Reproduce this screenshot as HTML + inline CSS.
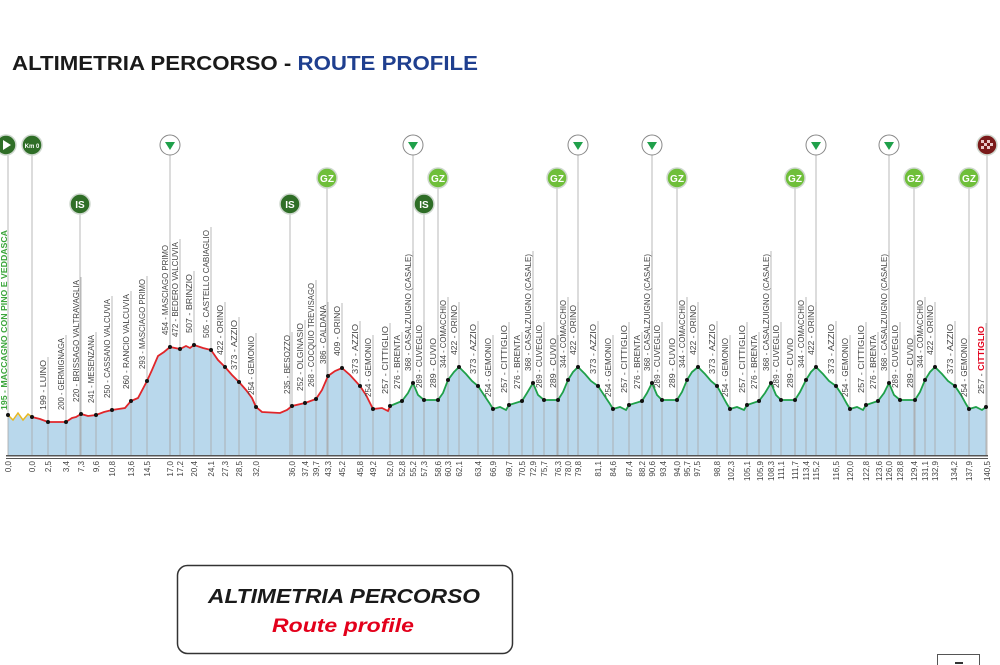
<!DOCTYPE html>
<html><head><meta charset="utf-8"><style>
html,body{margin:0;padding:0;background:#fff;}
svg{display:block;font-family:"Liberation Sans",sans-serif;}
.l{stroke:#a8a8a8;stroke-width:0.8}
.t{font-size:8px;fill:#444}
.k{font-size:8px;fill:#444}
</style></head><body>
<svg width="1000" height="665" viewBox="0 0 1000 665">
<text x="12" y="70" font-size="20" font-weight="bold" textLength="466" lengthAdjust="spacingAndGlyphs"><tspan fill="#1a1a1a">ALTIMETRIA PERCORSO - </tspan><tspan fill="#1f3f8f">ROUTE PROFILE</tspan></text>

<path fill="#b9d8ec" d="M8,455 L8,415 13,420 18,413 23,420 28,414 32,417 40,419 48,422 56,422 66,422 72,418 76,417 81,414 88,416 96,415 104,412 112,410 125,408 131,401 138,398 147,381 152,370 158,356 164,352 170,347 175,348 180,349 186,346 190,348 194,345 203,348 211,350 218,360 225,367 232,375 239,382 246,390 252,398 256,407 262,412 280,413 287,410 292,406 305,403 316,399 322,390 328,376 335,371 342,368 350,375 360,386 366,395 373,409 382,408 388,411 390,406 402,401 408,393 413,383 418,395 424,400 438,400 443,393 448,380 454,372 459,367 466,374 472,381 478,386 484,395 490,404 493,409 500,407 506,410 509,405 522,401 527,393 533,383 538,395 544,400 558,400 563,392 568,380 573,372 578,367 585,374 591,381 598,386 604,395 610,404 613,409 620,407 626,410 629,405 642,401 647,393 652,383 657,395 662,400 677,400 682,392 687,380 692,372 698,367 705,374 711,381 717,386 722,395 727,404 730,409 737,407 744,410 747,405 759,401 765,393 771,383 776,395 781,400 795,400 800,392 806,380 811,372 816,367 823,374 829,381 836,386 842,395 847,404 850,409 857,407 863,410 866,405 878,401 884,393 889,383 894,395 900,400 915,400 920,392 925,380 930,372 935,367 942,374 948,381 955,386 961,395 966,404 969,409 976,407 982,410 986,407 L986,455 Z"/>

<!-- label lines -->
<g class="l">
<line x1="48" y1="357" x2="48" y2="455"/><line x1="66" y1="335" x2="66" y2="455"/><line x1="81" y1="277" x2="81" y2="455"/><line x1="96" y1="332" x2="96" y2="455"/><line x1="112" y1="296" x2="112" y2="455"/><line x1="131" y1="291" x2="131" y2="455"/><line x1="147" y1="276" x2="147" y2="455"/><line x1="170" y1="242" x2="170" y2="455"/><line x1="180" y1="239" x2="180" y2="455"/><line x1="194" y1="271" x2="194" y2="455"/><line x1="211" y1="227" x2="211" y2="455"/><line x1="225" y1="302" x2="225" y2="455"/><line x1="239" y1="317" x2="239" y2="455"/><line x1="256" y1="333" x2="256" y2="455"/><line x1="292" y1="332" x2="292" y2="455"/><line x1="305" y1="320" x2="305" y2="455"/><line x1="316" y1="280" x2="316" y2="455"/><line x1="328" y1="302" x2="328" y2="455"/><line x1="342" y1="303" x2="342" y2="455"/><line x1="360" y1="321" x2="360" y2="455"/><line x1="373" y1="335" x2="373" y2="455"/><line x1="390" y1="323" x2="390" y2="455"/><line x1="402" y1="332" x2="402" y2="455"/><line x1="413" y1="251" x2="413" y2="455"/><line x1="424" y1="322" x2="424" y2="455"/><line x1="438" y1="335" x2="438" y2="455"/><line x1="448" y1="297" x2="448" y2="455"/><line x1="459" y1="302" x2="459" y2="455"/>
<line x1="478" y1="321" x2="478" y2="455"/><line x1="493" y1="335" x2="493" y2="455"/><line x1="509" y1="322" x2="509" y2="455"/><line x1="522" y1="332" x2="522" y2="455"/><line x1="533" y1="251" x2="533" y2="455"/><line x1="544" y1="322" x2="544" y2="455"/><line x1="558" y1="335" x2="558" y2="455"/><line x1="568" y1="297" x2="568" y2="455"/><line x1="578" y1="302" x2="578" y2="455"/>
<line x1="598" y1="321" x2="598" y2="455"/><line x1="613" y1="335" x2="613" y2="455"/><line x1="629" y1="322" x2="629" y2="455"/><line x1="642" y1="332" x2="642" y2="455"/><line x1="652" y1="251" x2="652" y2="455"/><line x1="662" y1="322" x2="662" y2="455"/><line x1="677" y1="335" x2="677" y2="455"/><line x1="687" y1="297" x2="687" y2="455"/><line x1="698" y1="302" x2="698" y2="455"/>
<line x1="717" y1="321" x2="717" y2="455"/><line x1="730" y1="335" x2="730" y2="455"/><line x1="747" y1="322" x2="747" y2="455"/><line x1="759" y1="332" x2="759" y2="455"/><line x1="771" y1="251" x2="771" y2="455"/><line x1="781" y1="322" x2="781" y2="455"/><line x1="795" y1="335" x2="795" y2="455"/><line x1="806" y1="297" x2="806" y2="455"/><line x1="816" y1="302" x2="816" y2="455"/>
<line x1="836" y1="321" x2="836" y2="455"/><line x1="850" y1="335" x2="850" y2="455"/><line x1="866" y1="322" x2="866" y2="455"/><line x1="878" y1="332" x2="878" y2="455"/><line x1="889" y1="251" x2="889" y2="455"/><line x1="900" y1="322" x2="900" y2="455"/><line x1="915" y1="335" x2="915" y2="455"/><line x1="925" y1="297" x2="925" y2="455"/><line x1="935" y1="302" x2="935" y2="455"/>
<line x1="955" y1="321" x2="955" y2="455"/><line x1="969" y1="335" x2="969" y2="455"/><line x1="986" y1="323" x2="986" y2="455"/>
<!-- marker lines -->
<line x1="8" y1="150" x2="8" y2="455"/><line x1="32" y1="150" x2="32" y2="455"/><line x1="80" y1="210" x2="80" y2="455"/><line x1="170" y1="150" x2="170" y2="455"/><line x1="290" y1="210" x2="290" y2="455"/><line x1="327" y1="180" x2="327" y2="455"/><line x1="413" y1="150" x2="413" y2="455"/><line x1="424" y1="210" x2="424" y2="455"/><line x1="438" y1="180" x2="438" y2="455"/><line x1="557" y1="180" x2="557" y2="455"/><line x1="578" y1="150" x2="578" y2="455"/><line x1="652" y1="150" x2="652" y2="455"/><line x1="677" y1="180" x2="677" y2="455"/><line x1="795" y1="180" x2="795" y2="455"/><line x1="816" y1="150" x2="816" y2="455"/><line x1="889" y1="150" x2="889" y2="455"/><line x1="914" y1="180" x2="914" y2="455"/><line x1="969" y1="180" x2="969" y2="455"/><line x1="987" y1="150" x2="987" y2="455"/>
</g>

<!-- profile lines -->
<polyline fill="none" stroke="#e8b820" stroke-width="1.5" points="8,415 13,420 18,413 23,420 28,414 32,417"/>
<polyline fill="none" stroke="#e0262a" stroke-width="1.8" points="32,417 40,419 48,422 56,422 66,422 72,418 76,417 81,414 88,416 96,415 104,412 112,410 125,408 131,401 138,398 147,381 152,370 158,356 164,352 170,347 175,348 180,349 186,346 190,348 194,345 203,348 211,350 218,360 225,367 232,375 239,382 246,390 252,398 256,407 262,412 280,413 287,410 292,406 305,403 316,399 322,390 328,376 335,371 342,368 350,375 360,386 366,395 373,409 382,408 388,411 390,406"/>
<polyline fill="none" stroke="#1fa04a" stroke-width="1.8" points="390,406 402,401 408,393 413,383 418,395 424,400 438,400 443,393 448,380 454,372 459,367 466,374 472,381 478,386 484,395 490,404 493,409 500,407 506,410 509,405 522,401 527,393 533,383 538,395 544,400 558,400 563,392 568,380 573,372 578,367 585,374 591,381 598,386 604,395 610,404 613,409 620,407 626,410 629,405 642,401 647,393 652,383 657,395 662,400 677,400 682,392 687,380 692,372 698,367 705,374 711,381 717,386 722,395 727,404 730,409 737,407 744,410 747,405 759,401 765,393 771,383 776,395 781,400 795,400 800,392 806,380 811,372 816,367 823,374 829,381 836,386 842,395 847,404 850,409 857,407 863,410 866,405 878,401 884,393 889,383 894,395 900,400 915,400 920,392 925,380 930,372 935,367 942,374 948,381 955,386 961,395 966,404 969,409 976,407 982,410 986,407"/>

<!-- axis -->
<rect x="6" y="455" width="982" height="1.5" fill="#555"/>
<rect x="6" y="458" width="982" height="1" fill="#555"/>

<!-- dots -->
<g fill="#111">
<circle cx="8" cy="415" r="2"/><circle cx="32" cy="417" r="2"/><circle cx="48" cy="422" r="2"/><circle cx="66" cy="422" r="2"/><circle cx="81" cy="414" r="2"/><circle cx="96" cy="415" r="2"/><circle cx="112" cy="410" r="2"/><circle cx="131" cy="401" r="2"/><circle cx="147" cy="381" r="2"/><circle cx="170" cy="347" r="2"/><circle cx="180" cy="349" r="2"/><circle cx="194" cy="345" r="2"/><circle cx="211" cy="350" r="2"/><circle cx="225" cy="367" r="2"/><circle cx="239" cy="382" r="2"/><circle cx="256" cy="407" r="2"/><circle cx="292" cy="406" r="2"/><circle cx="305" cy="403" r="2"/><circle cx="316" cy="399" r="2"/><circle cx="328" cy="376" r="2"/><circle cx="342" cy="368" r="2"/><circle cx="360" cy="386" r="2"/><circle cx="373" cy="409" r="2"/><circle cx="390" cy="406" r="2"/><circle cx="402" cy="401" r="2"/><circle cx="413" cy="383" r="2"/><circle cx="424" cy="400" r="2"/><circle cx="438" cy="400" r="2"/><circle cx="448" cy="380" r="2"/><circle cx="459" cy="367" r="2"/>
<circle cx="478" cy="386" r="2"/><circle cx="493" cy="409" r="2"/><circle cx="509" cy="405" r="2"/><circle cx="522" cy="401" r="2"/><circle cx="533" cy="383" r="2"/><circle cx="544" cy="400" r="2"/><circle cx="558" cy="400" r="2"/><circle cx="568" cy="380" r="2"/><circle cx="578" cy="367" r="2"/>
<circle cx="598" cy="386" r="2"/><circle cx="613" cy="409" r="2"/><circle cx="629" cy="405" r="2"/><circle cx="642" cy="401" r="2"/><circle cx="652" cy="383" r="2"/><circle cx="662" cy="400" r="2"/><circle cx="677" cy="400" r="2"/><circle cx="687" cy="380" r="2"/><circle cx="698" cy="367" r="2"/>
<circle cx="717" cy="386" r="2"/><circle cx="730" cy="409" r="2"/><circle cx="747" cy="405" r="2"/><circle cx="759" cy="401" r="2"/><circle cx="771" cy="383" r="2"/><circle cx="781" cy="400" r="2"/><circle cx="795" cy="400" r="2"/><circle cx="806" cy="380" r="2"/><circle cx="816" cy="367" r="2"/>
<circle cx="836" cy="386" r="2"/><circle cx="850" cy="409" r="2"/><circle cx="866" cy="405" r="2"/><circle cx="878" cy="401" r="2"/><circle cx="889" cy="383" r="2"/><circle cx="900" cy="400" r="2"/><circle cx="915" cy="400" r="2"/><circle cx="925" cy="380" r="2"/><circle cx="935" cy="367" r="2"/>
<circle cx="955" cy="386" r="2"/><circle cx="969" cy="409" r="2"/><circle cx="986" cy="407" r="2"/>
</g>

<!-- place labels -->
<g class="t">
<text transform="translate(7,410) rotate(-90)" fill="#3aa53a" font-weight="bold" textLength="180" lengthAdjust="spacingAndGlyphs">195 - MACCAGNO CON PINO E VEDDASCA</text>
<text transform="translate(46,410) rotate(-90)" textLength="50" lengthAdjust="spacingAndGlyphs">199 - LUINO</text>
<text transform="translate(64,410) rotate(-90)" textLength="72" lengthAdjust="spacingAndGlyphs">200 - GERMIGNAGA</text>
<text transform="translate(79,402) rotate(-90)" textLength="122" lengthAdjust="spacingAndGlyphs">220 - BRISSAGO VALTRAVAGLIA</text>
<text transform="translate(94,403) rotate(-90)" textLength="68" lengthAdjust="spacingAndGlyphs">241 - MESENZANA</text>
<text transform="translate(110,398) rotate(-90)" textLength="99" lengthAdjust="spacingAndGlyphs">250 - CASSANO VALCUVIA</text>
<text transform="translate(129,389) rotate(-90)" textLength="95" lengthAdjust="spacingAndGlyphs">260 - RANCIO VALCUVIA</text>
<text transform="translate(145,369) rotate(-90)" textLength="90" lengthAdjust="spacingAndGlyphs">293 - MASCIAGO PRIMO</text>
<text transform="translate(168,335) rotate(-90)" textLength="90" lengthAdjust="spacingAndGlyphs">454 - MASCIAGO PRIMO</text>
<text transform="translate(178,337) rotate(-90)" textLength="95" lengthAdjust="spacingAndGlyphs">472 - BEDERO VALCUVIA</text>
<text transform="translate(192,333) rotate(-90)" textLength="59" lengthAdjust="spacingAndGlyphs">507 - BRINZIO</text>
<text transform="translate(209,338) rotate(-90)" textLength="108" lengthAdjust="spacingAndGlyphs">505 - CASTELLO CABIAGLIO</text>
<text transform="translate(223,355) rotate(-90)" textLength="50" lengthAdjust="spacingAndGlyphs">422 - ORINO</text>
<text transform="translate(237,370) rotate(-90)" textLength="50" lengthAdjust="spacingAndGlyphs">373 - AZZIO</text>
<text transform="translate(254,395) rotate(-90)" textLength="59" lengthAdjust="spacingAndGlyphs">254 - GEMONIO</text>
<text transform="translate(290,394) rotate(-90)" textLength="59" lengthAdjust="spacingAndGlyphs">235 - BESOZZO</text>
<text transform="translate(303,391) rotate(-90)" textLength="68" lengthAdjust="spacingAndGlyphs">252 - OLGINASIO</text>
<text transform="translate(314,387) rotate(-90)" textLength="104" lengthAdjust="spacingAndGlyphs">268 - COCQUIO TREVISAGO</text>
<text transform="translate(326,364) rotate(-90)" textLength="59" lengthAdjust="spacingAndGlyphs">386 - CALDANA</text>
<text transform="translate(340,356) rotate(-90)" textLength="50" lengthAdjust="spacingAndGlyphs">409 - ORINO</text>
<text transform="translate(358,374) rotate(-90)" textLength="50" lengthAdjust="spacingAndGlyphs">373 - AZZIO</text>
<text transform="translate(371,397) rotate(-90)" textLength="59" lengthAdjust="spacingAndGlyphs">254 - GEMONIO</text>
<text transform="translate(388,394) rotate(-90)" textLength="68" lengthAdjust="spacingAndGlyphs">257 - CITTIGLIO</text>
<text transform="translate(400,389) rotate(-90)" textLength="54" lengthAdjust="spacingAndGlyphs">276 - BRENTA</text>
<text transform="translate(411,371) rotate(-90)" textLength="117" lengthAdjust="spacingAndGlyphs">368 - CASALZUIGNO (CASALE)</text>
<text transform="translate(422,388) rotate(-90)" textLength="63" lengthAdjust="spacingAndGlyphs">289 - CUVEGLIO</text>
<text transform="translate(436,388) rotate(-90)" textLength="50" lengthAdjust="spacingAndGlyphs">289 - CUVIO</text>
<text transform="translate(446,368) rotate(-90)" textLength="68" lengthAdjust="spacingAndGlyphs">344 - COMACCHIO</text>
<text transform="translate(457,355) rotate(-90)" textLength="50" lengthAdjust="spacingAndGlyphs">422 - ORINO</text>

<text transform="translate(476,374) rotate(-90)" textLength="50" lengthAdjust="spacingAndGlyphs">373 - AZZIO</text>
<text transform="translate(491,397) rotate(-90)" textLength="59" lengthAdjust="spacingAndGlyphs">254 - GEMONIO</text>
<text transform="translate(507,393) rotate(-90)" textLength="68" lengthAdjust="spacingAndGlyphs">257 - CITTIGLIO</text>
<text transform="translate(520,389) rotate(-90)" textLength="54" lengthAdjust="spacingAndGlyphs">276 - BRENTA</text>
<text transform="translate(531,371) rotate(-90)" textLength="117" lengthAdjust="spacingAndGlyphs">368 - CASALZUIGNO (CASALE)</text>
<text transform="translate(542,388) rotate(-90)" textLength="63" lengthAdjust="spacingAndGlyphs">289 - CUVEGLIO</text>
<text transform="translate(556,388) rotate(-90)" textLength="50" lengthAdjust="spacingAndGlyphs">289 - CUVIO</text>
<text transform="translate(566,368) rotate(-90)" textLength="68" lengthAdjust="spacingAndGlyphs">344 - COMACCHIO</text>
<text transform="translate(576,355) rotate(-90)" textLength="50" lengthAdjust="spacingAndGlyphs">422 - ORINO</text>

<text transform="translate(596,374) rotate(-90)" textLength="50" lengthAdjust="spacingAndGlyphs">373 - AZZIO</text>
<text transform="translate(611,397) rotate(-90)" textLength="59" lengthAdjust="spacingAndGlyphs">254 - GEMONIO</text>
<text transform="translate(627,393) rotate(-90)" textLength="68" lengthAdjust="spacingAndGlyphs">257 - CITTIGLIO</text>
<text transform="translate(640,389) rotate(-90)" textLength="54" lengthAdjust="spacingAndGlyphs">276 - BRENTA</text>
<text transform="translate(650,371) rotate(-90)" textLength="117" lengthAdjust="spacingAndGlyphs">368 - CASALZUIGNO (CASALE)</text>
<text transform="translate(660,388) rotate(-90)" textLength="63" lengthAdjust="spacingAndGlyphs">289 - CUVEGLIO</text>
<text transform="translate(675,388) rotate(-90)" textLength="50" lengthAdjust="spacingAndGlyphs">289 - CUVIO</text>
<text transform="translate(685,368) rotate(-90)" textLength="68" lengthAdjust="spacingAndGlyphs">344 - COMACCHIO</text>
<text transform="translate(696,355) rotate(-90)" textLength="50" lengthAdjust="spacingAndGlyphs">422 - ORINO</text>

<text transform="translate(715,374) rotate(-90)" textLength="50" lengthAdjust="spacingAndGlyphs">373 - AZZIO</text>
<text transform="translate(728,397) rotate(-90)" textLength="59" lengthAdjust="spacingAndGlyphs">254 - GEMONIO</text>
<text transform="translate(745,393) rotate(-90)" textLength="68" lengthAdjust="spacingAndGlyphs">257 - CITTIGLIO</text>
<text transform="translate(757,389) rotate(-90)" textLength="54" lengthAdjust="spacingAndGlyphs">276 - BRENTA</text>
<text transform="translate(769,371) rotate(-90)" textLength="117" lengthAdjust="spacingAndGlyphs">368 - CASALZUIGNO (CASALE)</text>
<text transform="translate(779,388) rotate(-90)" textLength="63" lengthAdjust="spacingAndGlyphs">289 - CUVEGLIO</text>
<text transform="translate(793,388) rotate(-90)" textLength="50" lengthAdjust="spacingAndGlyphs">289 - CUVIO</text>
<text transform="translate(804,368) rotate(-90)" textLength="68" lengthAdjust="spacingAndGlyphs">344 - COMACCHIO</text>
<text transform="translate(814,355) rotate(-90)" textLength="50" lengthAdjust="spacingAndGlyphs">422 - ORINO</text>

<text transform="translate(834,374) rotate(-90)" textLength="50" lengthAdjust="spacingAndGlyphs">373 - AZZIO</text>
<text transform="translate(848,397) rotate(-90)" textLength="59" lengthAdjust="spacingAndGlyphs">254 - GEMONIO</text>
<text transform="translate(864,393) rotate(-90)" textLength="68" lengthAdjust="spacingAndGlyphs">257 - CITTIGLIO</text>
<text transform="translate(876,389) rotate(-90)" textLength="54" lengthAdjust="spacingAndGlyphs">276 - BRENTA</text>
<text transform="translate(887,371) rotate(-90)" textLength="117" lengthAdjust="spacingAndGlyphs">368 - CASALZUIGNO (CASALE)</text>
<text transform="translate(898,388) rotate(-90)" textLength="63" lengthAdjust="spacingAndGlyphs">289 - CUVEGLIO</text>
<text transform="translate(913,388) rotate(-90)" textLength="50" lengthAdjust="spacingAndGlyphs">289 - CUVIO</text>
<text transform="translate(923,368) rotate(-90)" textLength="68" lengthAdjust="spacingAndGlyphs">344 - COMACCHIO</text>
<text transform="translate(933,355) rotate(-90)" textLength="50" lengthAdjust="spacingAndGlyphs">422 - ORINO</text>

<text transform="translate(953,374) rotate(-90)" textLength="50" lengthAdjust="spacingAndGlyphs">373 - AZZIO</text>
<text transform="translate(967,397) rotate(-90)" textLength="59" lengthAdjust="spacingAndGlyphs">254 - GEMONIO</text>
<text transform="translate(984,394) rotate(-90)" textLength="68" lengthAdjust="spacingAndGlyphs"><tspan>257 - </tspan><tspan fill="#e3001b" font-weight="bold">CITTIGLIO</tspan></text>
</g>

<!-- km labels -->
<g class="k" text-anchor="end">
<text transform="translate(11,461) rotate(-90)">0,0</text>
<text transform="translate(35,461) rotate(-90)">0,0</text>
<text transform="translate(51,461) rotate(-90)">2,5</text>
<text transform="translate(69,461) rotate(-90)">3,4</text>
<text transform="translate(84,461) rotate(-90)">7,3</text>
<text transform="translate(99,461) rotate(-90)">9,6</text>
<text transform="translate(115,461) rotate(-90)">10,8</text>
<text transform="translate(134,461) rotate(-90)">13,6</text>
<text transform="translate(150,461) rotate(-90)">14,5</text>
<text transform="translate(173,461) rotate(-90)">17,0</text>
<text transform="translate(183,461) rotate(-90)">17,2</text>
<text transform="translate(197,461) rotate(-90)">20,4</text>
<text transform="translate(214,461) rotate(-90)">24,1</text>
<text transform="translate(228,461) rotate(-90)">27,3</text>
<text transform="translate(242,461) rotate(-90)">28,5</text>
<text transform="translate(259,461) rotate(-90)">32,0</text>
<text transform="translate(295,461) rotate(-90)">36,0</text>
<text transform="translate(308,461) rotate(-90)">37,4</text>
<text transform="translate(319,461) rotate(-90)">39,7</text>
<text transform="translate(331,461) rotate(-90)">43,3</text>
<text transform="translate(345,461) rotate(-90)">45,2</text>
<text transform="translate(363,461) rotate(-90)">45,8</text>
<text transform="translate(376,461) rotate(-90)">49,2</text>
<text transform="translate(393,461) rotate(-90)">52,0</text>
<text transform="translate(405,461) rotate(-90)">52,8</text>
<text transform="translate(416,461) rotate(-90)">55,2</text>
<text transform="translate(427,461) rotate(-90)">57,3</text>
<text transform="translate(441,461) rotate(-90)">58,6</text>
<text transform="translate(451,461) rotate(-90)">60,3</text>
<text transform="translate(462,461) rotate(-90)">62,1</text>
<text transform="translate(481,461) rotate(-90)">63,4</text>
<text transform="translate(496,461) rotate(-90)">66,9</text>
<text transform="translate(512,461) rotate(-90)">69,7</text>
<text transform="translate(525,461) rotate(-90)">70,5</text>
<text transform="translate(536,461) rotate(-90)">72,9</text>
<text transform="translate(547,461) rotate(-90)">75,7</text>
<text transform="translate(561,461) rotate(-90)">76,3</text>
<text transform="translate(571,461) rotate(-90)">78,0</text>
<text transform="translate(581,461) rotate(-90)">79,8</text>
<text transform="translate(601,461) rotate(-90)">81,1</text>
<text transform="translate(616,461) rotate(-90)">84,6</text>
<text transform="translate(632,461) rotate(-90)">87,4</text>
<text transform="translate(645,461) rotate(-90)">88,2</text>
<text transform="translate(655,461) rotate(-90)">90,6</text>
<text transform="translate(666,461) rotate(-90)">93,4</text>
<text transform="translate(680,461) rotate(-90)">94,0</text>
<text transform="translate(690,461) rotate(-90)">95,7</text>
<text transform="translate(700,461) rotate(-90)">97,5</text>
<text transform="translate(720,461) rotate(-90)">98,8</text>
<text transform="translate(734,461) rotate(-90)">102,3</text>
<text transform="translate(750,461) rotate(-90)">105,1</text>
<text transform="translate(763,461) rotate(-90)">105,9</text>
<text transform="translate(774,461) rotate(-90)">108,3</text>
<text transform="translate(784,461) rotate(-90)">111,1</text>
<text transform="translate(798,461) rotate(-90)">111,7</text>
<text transform="translate(809,461) rotate(-90)">113,4</text>
<text transform="translate(819,461) rotate(-90)">115,2</text>
<text transform="translate(839,461) rotate(-90)">116,5</text>
<text transform="translate(853,461) rotate(-90)">120,0</text>
<text transform="translate(869,461) rotate(-90)">122,8</text>
<text transform="translate(882,461) rotate(-90)">123,6</text>
<text transform="translate(892,461) rotate(-90)">126,0</text>
<text transform="translate(903,461) rotate(-90)">128,8</text>
<text transform="translate(917,461) rotate(-90)">129,4</text>
<text transform="translate(928,461) rotate(-90)">131,1</text>
<text transform="translate(938,461) rotate(-90)">132,9</text>
<text transform="translate(957,461) rotate(-90)">134,2</text>
<text transform="translate(972,461) rotate(-90)">137,9</text>
<text transform="translate(990,461) rotate(-90)">140,5</text>
</g>

<!-- markers -->
<g stroke="#cfd8cf" stroke-width="1.5">
<circle cx="6" cy="145" r="10" fill="#2f6e27"/>
<circle cx="32" cy="145" r="10" fill="#2f6e27"/>
<circle cx="80" cy="204" r="10" fill="#2f6e27"/>
<circle cx="290" cy="204" r="10" fill="#2f6e27"/>
<circle cx="424" cy="204" r="10" fill="#2f6e27"/>
<circle cx="327" cy="178" r="10" fill="#6fbf3a"/>
<circle cx="438" cy="178" r="10" fill="#6fbf3a"/>
<circle cx="557" cy="178" r="10" fill="#6fbf3a"/>
<circle cx="677" cy="178" r="10" fill="#6fbf3a"/>
<circle cx="795" cy="178" r="10" fill="#6fbf3a"/>
<circle cx="914" cy="178" r="10" fill="#6fbf3a"/>
<circle cx="969" cy="178" r="10" fill="#6fbf3a"/>
<circle cx="987" cy="145" r="10" fill="#7a1a1a"/>
</g>
<g fill="#fff" stroke="#888" stroke-width="1">
<circle cx="170" cy="145" r="10"/><circle cx="413" cy="145" r="10"/><circle cx="578" cy="145" r="10"/><circle cx="652" cy="145" r="10"/><circle cx="816" cy="145" r="10"/><circle cx="889" cy="145" r="10"/>
</g>
<g fill="#1fa04a">
<path d="M165,142 L175,142 L170,150 Z"/><path d="M408,142 L418,142 L413,150 Z"/><path d="M573,142 L583,142 L578,150 Z"/><path d="M647,142 L657,142 L652,150 Z"/><path d="M811,142 L821,142 L816,150 Z"/><path d="M884,142 L894,142 L889,150 Z"/>
</g>
<path d="M3,140 L11,145 L3,150 Z" fill="#fff"/>
<text x="32" y="148" font-size="6" font-weight="bold" fill="#fff" text-anchor="middle">Km 0</text>
<g font-size="10" font-weight="bold" fill="#fff" text-anchor="middle">
<text x="80" y="208">IS</text><text x="290" y="208">IS</text><text x="424" y="208">IS</text>
<text x="327" y="182">GZ</text><text x="438" y="182">GZ</text><text x="557" y="182">GZ</text><text x="677" y="182">GZ</text><text x="795" y="182">GZ</text><text x="914" y="182">GZ</text><text x="969" y="182">GZ</text>
</g>
<g fill="#e8c8c8"><rect x="981" y="140" width="3" height="3"/><rect x="987" y="140" width="3" height="3"/><rect x="984" y="143" width="3" height="3"/><rect x="990" y="143" width="3" height="3"/><rect x="981" y="146" width="3" height="3"/><rect x="987" y="146" width="3" height="3"/></g>

<!-- legend box -->
<rect x="177.5" y="565.5" width="335" height="88" rx="10" fill="#fff" stroke="#333" stroke-width="1.5"/>
<text x="344" y="603" font-size="20" font-weight="bold" font-style="italic" fill="#1a1a1a" text-anchor="middle" textLength="272" lengthAdjust="spacingAndGlyphs">ALTIMETRIA PERCORSO</text>
<text x="343" y="632" font-size="19" font-weight="bold" font-style="italic" fill="#e3001b" text-anchor="middle" textLength="142" lengthAdjust="spacingAndGlyphs">Route profile</text>

<rect x="937.5" y="654.5" width="42" height="20" fill="#fff" stroke="#555"/>
<rect x="955" y="662" width="8" height="2" fill="#333"/>
</svg>
</body></html>
